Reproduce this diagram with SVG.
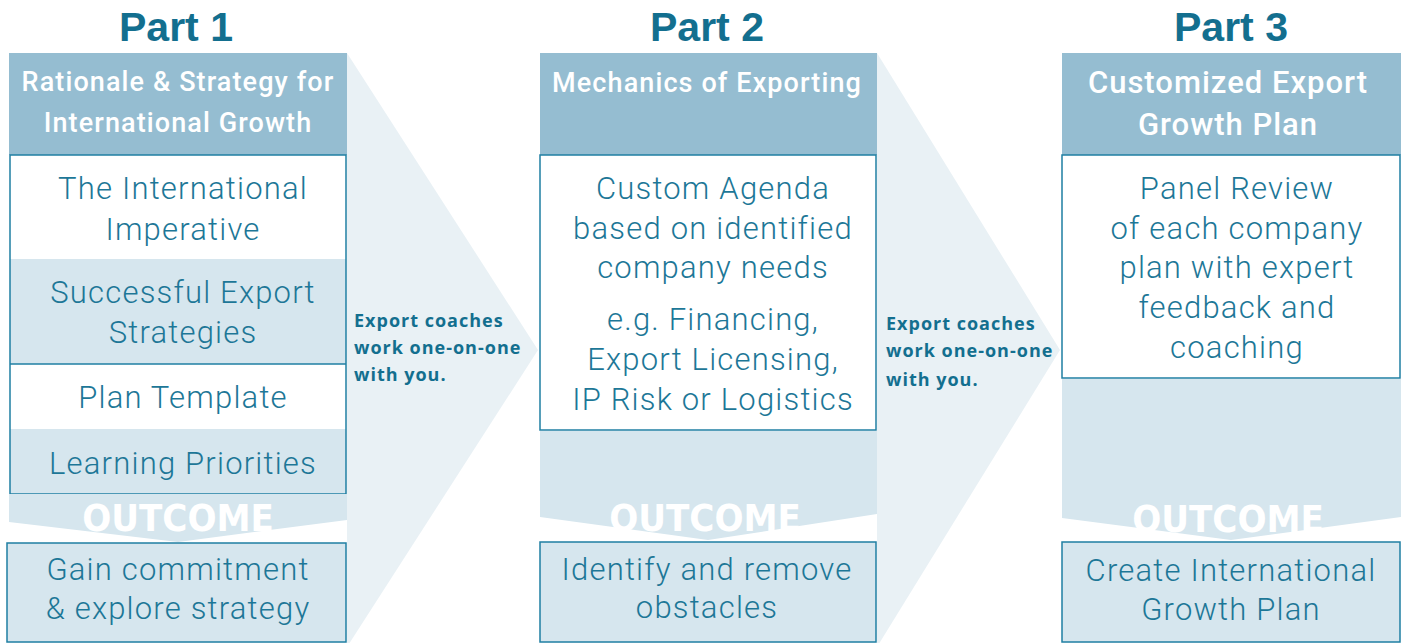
<svg xmlns="http://www.w3.org/2000/svg" width="1405" height="643" viewBox="0 0 1405 643">
<style>
.title{font-family:"Liberation Sans",Arial,sans-serif;font-weight:700;font-size:41px;fill:#136f8f;text-anchor:middle}
.hdr{fill:#95bdd1}
.htxt{font-family:Roboto,"Liberation Sans",sans-serif;font-weight:500;font-size:27px;fill:#ffffff;text-anchor:middle;letter-spacing:1.1px}
.htxt3{font-size:31px;letter-spacing:1px}
.box{fill:#ffffff;stroke:#1f7fa3;stroke-width:1.5}
.lb{fill:#d6e6ee}
.lbbox{fill:#d6e6ee;stroke:#1f7fa3;stroke-width:1.5}
.body{font-family:Roboto,"Liberation Sans",sans-serif;font-weight:300;font-size:31px;fill:#1d7797;text-anchor:middle;letter-spacing:1.2px}
.outc{font-family:"DejaVu Sans Condensed","DejaVu Sans",sans-serif;font-weight:700;font-size:38px;fill:#ffffff;text-anchor:middle}
.tri{fill:#e9f1f5}
.side{font-family:"Open Sans","Liberation Sans",sans-serif;font-weight:700;font-size:18px;fill:#136f8f;letter-spacing:1px}
</style>

<g id="connectors">
  <polygon class="tri" points="347,53 538,350 347,647"/>
  <polygon class="tri" points="877,53 1060,350 877,647"/>
  <g id="coach1">
    <text class="side" x="354" y="327">Export coaches</text>
    <text class="side" x="354" y="354">work one-on-one</text>
    <text class="side" x="354" y="381">with you.</text>
  </g>
  <g id="coach2">
    <text class="side" x="886" y="330">Export coaches</text>
    <text class="side" x="886" y="357">work one-on-one</text>
    <text class="side" x="886" y="386">with you.</text>
  </g>
</g>

<!-- Part 1 -->
<g id="part1">
  <text class="title" x="176" y="41">Part 1</text>
  <g id="p1-header">
    <rect class="hdr" x="9" y="53" width="338" height="102"/>
    <text class="htxt" x="178" y="91">Rationale &amp; Strategy for</text>
    <text class="htxt" x="178" y="132">International Growth</text>
  </g>
  <g id="p1-items">
    <rect x="10" y="155" width="336" height="104" fill="#ffffff"/>
    <rect class="lb" x="10" y="259" width="336" height="105"/>
    <rect x="10" y="364" width="336" height="65" fill="#ffffff"/>
    <rect class="lb" x="10" y="429" width="336" height="65"/>
    <rect x="10" y="155" width="336" height="339" fill="none" stroke="#1f7fa3" stroke-width="1.5"/>
    <line x1="10" y1="364" x2="346" y2="364" stroke="#1f7fa3" stroke-width="1.5"/>
    <text class="body" x="183" y="199">The International</text>
    <text class="body" x="183" y="240">Imperative</text>
    <text class="body" x="183" y="303">Successful Export</text>
    <text class="body" x="183" y="343">Strategies</text>
    <text class="body" x="183" y="408">Plan Template</text>
    <text class="body" x="183" y="474">Learning Priorities</text>
  </g>
  <g id="p1-outcome">
    <polygon class="lb" points="9,494 347,494 347,520 178,542 9,522"/>
    <text class="outc" x="178" y="531">OUTCOME</text>
  </g>
  <g id="p1-result">
    <rect class="lbbox" x="7" y="543" width="339" height="99"/>
    <text class="body" x="178" y="580">Gain commitment</text>
    <text class="body" x="178" y="619">&amp; explore strategy</text>
  </g>
</g>

<!-- Part 2 -->
<g id="part2">
  <text class="title" x="707" y="41">Part 2</text>
  <g id="p2-header">
    <rect class="hdr" x="540" y="53" width="337" height="102"/>
    <text class="htxt" x="707" y="92">Mechanics of Exporting</text>
  </g>
  <g id="p2-items">
    <rect class="box" x="540" y="155" width="336" height="275"/>
    <text class="body" x="713" y="199">Custom Agenda</text>
    <text class="body" x="713" y="239">based on identified</text>
    <text class="body" x="713" y="278">company needs</text>
    <text class="body" x="713" y="330">e.g. Financing,</text>
    <text class="body" x="713" y="370">Export Licensing,</text>
    <text class="body" x="713" y="410">IP Risk or Logistics</text>
  </g>
  <g id="p2-outcome">
    <polygon class="lb" points="540,431 877,431 877,514 708,540 540,517"/>
    <text class="outc" x="705" y="531">OUTCOME</text>
  </g>
  <g id="p2-result">
    <rect class="lbbox" x="540" y="542" width="336" height="100"/>
    <text class="body" x="707" y="580">Identify and remove</text>
    <text class="body" x="707" y="618">obstacles</text>
  </g>
</g>

<!-- Part 3 -->
<g id="part3">
  <text class="title" x="1231" y="41">Part 3</text>
  <g id="p3-header">
    <rect class="hdr" x="1062" y="53" width="339" height="102"/>
    <text class="htxt htxt3" x="1228" y="93">Customized Export</text>
    <text class="htxt htxt3" x="1228" y="135">Growth Plan</text>
  </g>
  <g id="p3-items">
    <rect class="box" x="1062" y="155" width="338" height="223"/>
    <text class="body" x="1237" y="199">Panel Review</text>
    <text class="body" x="1237" y="239">of each company</text>
    <text class="body" x="1237" y="278">plan with expert</text>
    <text class="body" x="1237" y="318">feedback and</text>
    <text class="body" x="1237" y="358">coaching</text>
  </g>
  <g id="p3-outcome">
    <polygon class="lb" points="1062,379 1401,379 1401,517 1231,540 1062,518"/>
    <text class="outc" x="1228" y="532">OUTCOME</text>
  </g>
  <g id="p3-result">
    <rect class="lbbox" x="1062" y="542" width="338" height="100"/>
    <text class="body" x="1231" y="581">Create International</text>
    <text class="body" x="1231" y="620">Growth Plan</text>
  </g>
</g>
</svg>
